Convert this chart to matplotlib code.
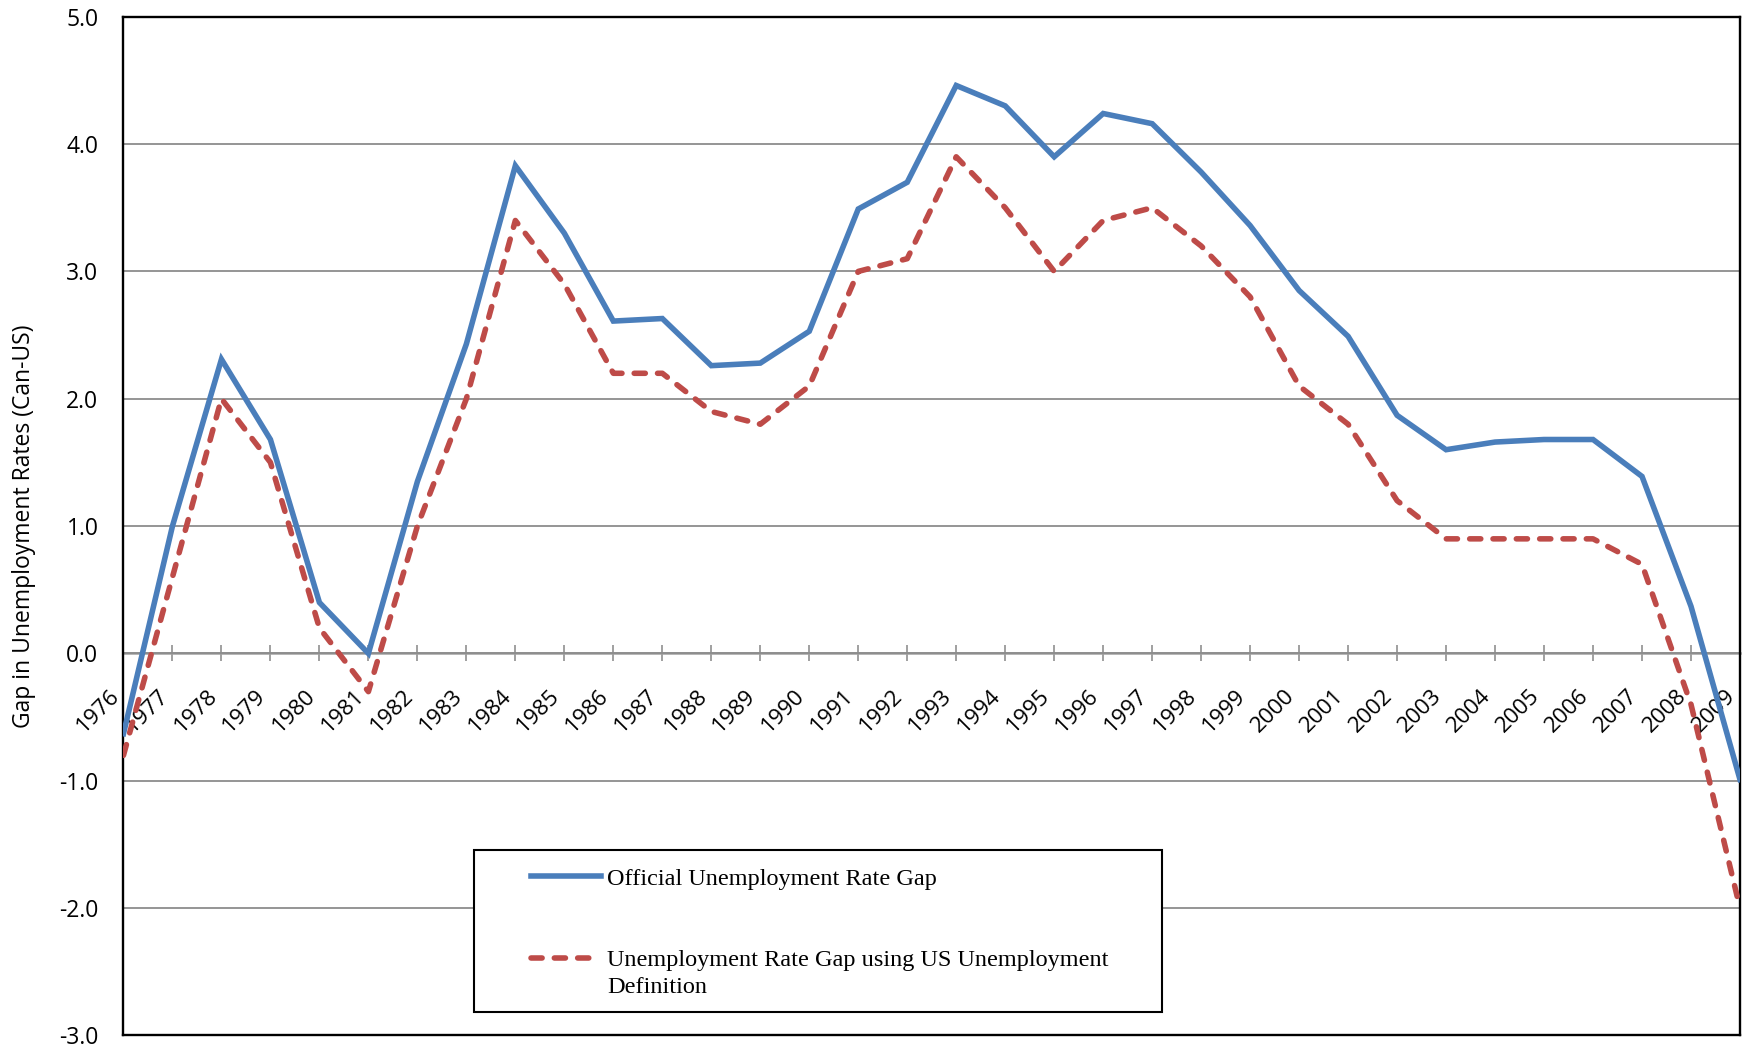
import matplotlib
matplotlib.use("Agg")
import matplotlib.pyplot as plt
from matplotlib.legend_handler import HandlerLine2D
from matplotlib.patches import Rectangle

# ======================================================
# DATA
# ======================================================
years = [str(y) for y in range(1976, 2010)]

official_gap = [
    -0.63, 1.00, 2.31, 1.68, 0.40, 0.00, 1.35, 2.43, 3.83, 3.30,
    2.61, 2.63, 2.26, 2.28, 2.53, 3.49, 3.70, 4.46, 4.30, 3.90,
    4.24, 4.16, 3.78, 3.36, 2.85, 2.49, 1.87, 1.60, 1.66, 1.68,
    1.68, 1.39, 0.37, -0.99,
]

us_def_gap = [
    -0.8, 0.6, 2.0, 1.5, 0.2, -0.3, 1.0, 2.0, 3.4, 2.9,
    2.2, 2.2, 1.9, 1.8, 2.1, 3.0, 3.1, 3.9, 3.5, 3.0,
    3.4, 3.5, 3.2, 2.8, 2.1, 1.8, 1.2, 0.9, 0.9, 0.9,
    0.9, 0.7, -0.4, -2.0,
]

y_ticks = [-3, -2, -1, 0, 1, 2, 3, 4, 5]

label_official = "Official Unemployment Rate Gap"
label_us = "Unemployment Rate Gap using US Unemployment\nDefinition"
y_title = "Gap in Unemployment Rates (Can-US)"

# ======================================================
# STYLE
# ======================================================
blue = "#4A7EBB"
red = "#BE4B48"
grid_gray = "#8C8C8C"
axis_gray = "#A0A0A0"
tick_font = "Open Sans"
legend_font = "Liberation Serif"

ymin, ymax = -3, 5

# ======================================================
# PLOT
# ======================================================
fig = plt.figure(figsize=(17.44, 10.45), dpi=100)
ax = fig.add_axes([0.0708, 0.0091, 0.9269, 0.9749])

x = list(range(len(years)))

line_off, = ax.plot(x, official_gap, color=blue, linewidth=4.0,
                    solid_joinstyle="miter", label=label_official, zorder=3)
line_us, = ax.plot(x, us_def_gap, color=red, linewidth=4.0,
                   linestyle=(0, (2.0, 2.2)), dash_capstyle="round",
                   dash_joinstyle="round", label=label_us, zorder=3)

ax.set_xlim(0, len(years) - 1)
ax.set_ylim(ymin, ymax)

# y axis
ax.set_yticks(y_ticks)
ax.set_yticklabels([f"{v:.1f}" for v in y_ticks], fontfamily=tick_font,
                   fontsize=16.5)
ax.tick_params(axis="y", length=0, pad=18)
ax.yaxis.grid(True, color=grid_gray, linewidth=1.3)
ax.set_axisbelow(True)
ax.set_xticks([])

for sp in ax.spines.values():
    sp.set_linewidth(1.7)
    sp.set_color("black")

ax.set_ylabel(y_title, fontfamily=tick_font, fontsize=16.5)
ax.yaxis.set_label_coords(-0.054, 0.5)

# category axis crossing at zero
zero_pos = (0 - ymin) / (ymax - ymin)
sec = ax.secondary_xaxis(zero_pos)
sec.spines["bottom"].set_color(axis_gray)
sec.spines["bottom"].set_linewidth(1.8)
sec.set_xticks(x)
sec.set_xticklabels(years, fontfamily=tick_font, fontsize=16.2,
                    rotation=45, ha="right")
sec.tick_params(axis="x", direction="inout", length=12, width=1.4,
                color=axis_gray, pad=17)

# ======================================================
# LEGEND
# ======================================================
box = Rectangle((0.2166, 0.0230), 0.4258, 0.1593, transform=ax.transAxes,
                facecolor="white", edgecolor="black", linewidth=1.5,
                zorder=4)
ax.add_patch(box)


def lift_handle(leg_line, orig):
    leg_line.update_from(orig)
    leg_line.set_ydata(leg_line.get_ydata() + 11.2)


leg = ax.legend(
    handles=[line_off, line_us],
    loc="upper left",
    bbox_to_anchor=(0.2524, 0.1648),
    frameon=False,
    borderpad=0,
    borderaxespad=0,
    handlelength=2.85,
    handletextpad=0.27,
    labelspacing=2.5,
    prop={"family": legend_font, "size": 17.5},
    handler_map={line_us: HandlerLine2D(update_func=lift_handle)},
)
leg.set_zorder(5)
for t in leg.get_texts():
    t.set_linespacing(1.36)

plt.savefig("out.png", dpi=100)
